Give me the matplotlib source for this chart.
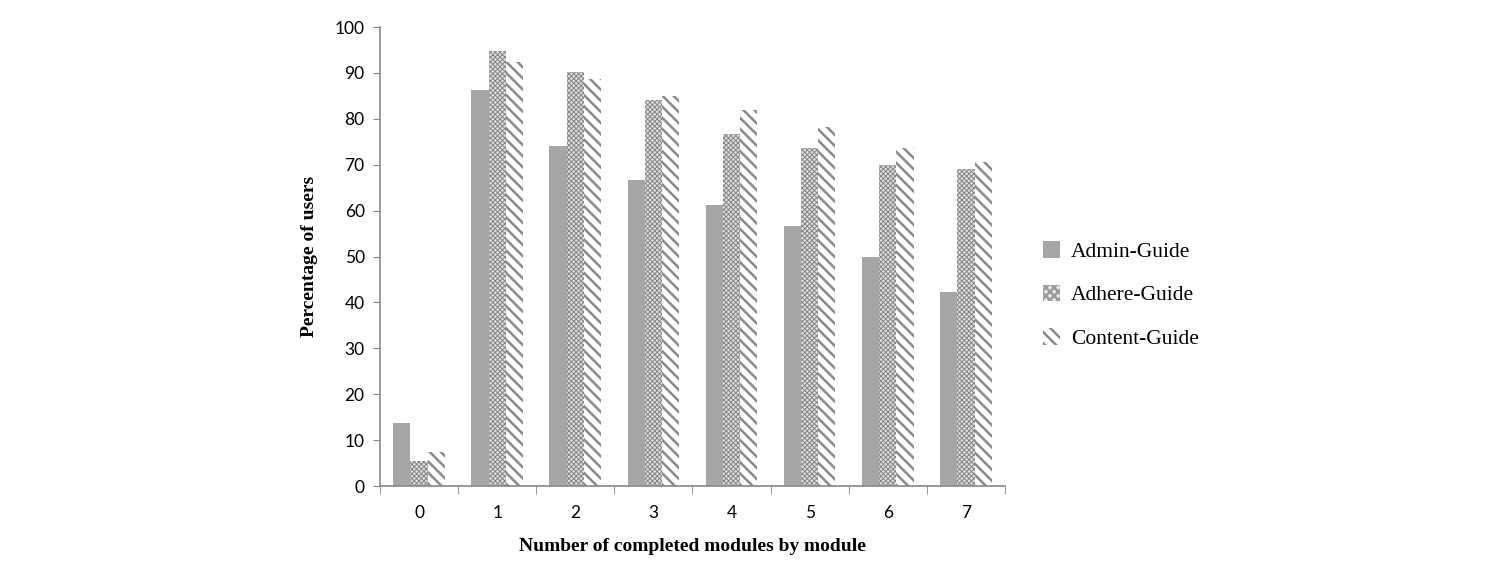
import matplotlib
matplotlib.use("Agg")
import matplotlib.pyplot as plt
from matplotlib.patches import Patch
import numpy as np

categories = ["0", "1", "2", "3", "4", "5", "6", "7"]
admin = [13.7, 86.3, 74.1, 66.7, 61.2, 56.6, 49.9, 42.3]
adhere = [5.5, 94.8, 90.2, 84.1, 76.7, 73.6, 69.9, 69.1]
content = [7.5, 92.4, 88.7, 85.0, 81.9, 78.2, 73.6, 70.6]
series_names = ["Admin-Guide", "Adhere-Guide", "Content-Guide"]
yticks = [0, 10, 20, 30, 40, 50, 60, 70, 80, 90, 100]

fig = plt.figure(figsize=(15, 5.85), dpi=100)
ax = fig.add_axes([0.2533, 0.1692, 0.4167, 0.7846])

x = np.arange(len(categories))
w = 0.22
plt.rcParams['hatch.linewidth'] = 0.7
ax.bar(x - w, admin, w, color="#a6a6a6", edgecolor="none")
ax.bar(x, adhere, w, facecolor="#e0e0e0", edgecolor="#858585", hatch="xxxxxxx", linewidth=0)
h_adh = Patch(facecolor="#e8e8e8", edgecolor="#9a9a9a", hatch="xxxx", linewidth=0)
plt.rcParams['hatch.linewidth'] = 1.8
ax.bar(x + w, content, w, facecolor="white", edgecolor="#8a8a8a", hatch="\\\\\\", linewidth=0)
h_con = Patch(facecolor="white", edgecolor="#8a8a8a", hatch="\\\\\\", linewidth=0)
h_adm = Patch(facecolor="#a6a6a6", edgecolor="none")

ax.set_xlim(-0.5, len(categories) - 0.5)
ax.set_ylim(0, 100)
ax.set_yticks(yticks)
ax.set_xticks(x)
ax.set_xticklabels(categories, fontfamily="Lato", fontsize=12.5)
ax.set_xticks(np.arange(len(categories) + 1) - 0.5, minor=True)
ax.tick_params(axis="x", which="major", length=0, pad=14)
ax.tick_params(axis="x", which="minor", length=6, color="#888888", direction="out")
ax.tick_params(axis="y", length=5, color="#888888", direction="out", pad=6)
for lbl in ax.get_yticklabels():
    lbl.set_fontfamily("Lato")
    lbl.set_fontsize(12.5)
for s in ["top", "right"]:
    ax.spines[s].set_visible(False)
for s in ["left", "bottom"]:
    ax.spines[s].set_color("#888888")
    ax.spines[s].set_linewidth(1.2)

ax.set_ylabel("Percentage of users", fontfamily="Liberation Serif", fontweight="bold", fontsize=14, labelpad=12)
ax.set_xlabel("Number of completed modules by module", fontfamily="Liberation Serif", fontweight="bold", fontsize=14, labelpad=12)

ax.legend([h_adm, h_adh, h_con], series_names, loc="center left", bbox_to_anchor=(1.03, 0.416), frameon=False,
          prop={"family": "Liberation Serif", "size": 15.5},
          handlelength=0.8, handleheight=0.8, handletextpad=0.5, labelspacing=1.05)

fig.savefig("out.png", dpi=100)
